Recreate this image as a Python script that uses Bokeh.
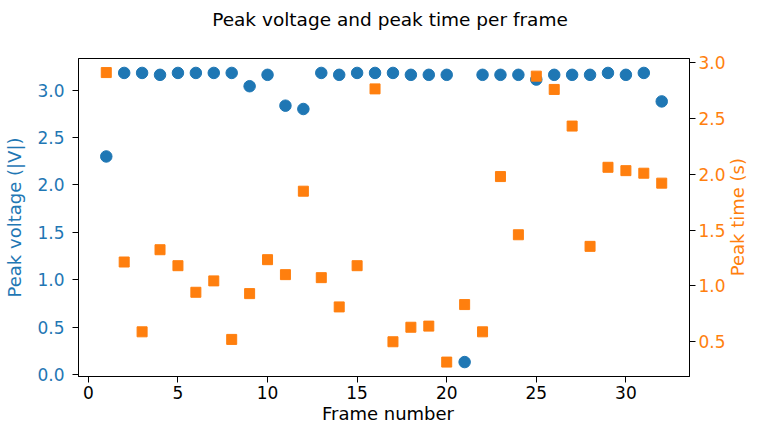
import math
from bokeh.plotting import figure
from bokeh.layouts import column, row
from bokeh.models import (Range1d, LinearAxis, FixedTicker, PrintfTickFormatter,
                          ColumnDataSource, Div)
from bokeh.embed import file_html
from bokeh.resources import INLINE

# ---- data ----
frames = list(range(1, 33))
peak_voltage = [2.30, 3.18, 3.18, 3.16, 3.18, 3.18, 3.18, 3.18, 3.04, 3.16,
                2.835, 2.80, 3.18, 3.16, 3.18, 3.18, 3.18, 3.16, 3.16, 3.16,
                0.134, 3.16, 3.16, 3.16, 3.11, 3.16, 3.16, 3.16, 3.18, 3.16,
                3.18, 2.88]
peak_time = [2.91, 1.214, 0.589, 1.324, 1.181, 0.943, 1.045, 0.521, 0.931, 1.235,
             1.101, 1.848, 1.074, 0.812, 1.181, 2.764, 0.50, 0.63, 0.64, 0.318,
             0.833, 0.589, 1.979, 1.458, 2.878, 2.759, 2.431, 1.354, 2.062, 2.032,
             2.009, 1.92]
x_ticks = [0, 5, 10, 15, 20, 25, 30]
v_ticks = [0.0, 0.5, 1.0, 1.5, 2.0, 2.5, 3.0]
t_ticks = [0.5, 1.0, 1.5, 2.0, 2.5, 3.0]
title_text = "Peak voltage and peak time per frame"
x_label = "Frame number"
left_label = "Peak voltage (|V|)"
right_label = "Peak time (s)"

BLUE = "#1f77b4"
ORANGE = "#ff7f0e"
FONT = "DejaVu Sans"

# ---- layout ----
TOTAL_W = 748
TITLE_H = 40
XLABEL_H = 15
LABEL_W = 20                 # strip that carries the right-hand axis label
W = TOTAL_W - LABEL_W
H = 421 - TITLE_H - XLABEL_H
BT, BB = 18, 30

src = ColumnDataSource(dict(frame=frames, v=peak_voltage, t=peak_time))

title = Div(
    text=('<div style="width:%dpx;box-sizing:border-box;padding-left:32px;'
          'padding-top:9px;margin:0;text-align:center;font-family:\'DejaVu Sans\';'
          'font-size:18.5px;line-height:21px;color:black;white-space:nowrap;">%s</div>')
         % (TOTAL_W, title_text),
    width=TOTAL_W, height=TITLE_H, margin=0)

p = figure(width=W, height=H, output_backend="svg", toolbar_location=None,
           x_range=Range1d(-0.55, 33.55), y_range=Range1d(-0.018, 3.332),
           min_border_left=78, min_border_right=36, min_border_top=BT,
           min_border_bottom=BB, margin=0)
p.extra_y_ranges = {"time": Range1d(0.189, 3.036)}

p.xgrid.visible = False
p.ygrid.visible = False
p.outline_line_color = "black"
p.outline_line_width = 1
p.background_fill_color = "white"
p.border_fill_color = "white"

right = LinearAxis(y_range_name="time")
p.add_layout(right, "right")

for ax in [p.xaxis[0], p.yaxis[0], right]:
    ax.axis_line_color = "black"
    ax.major_tick_line_color = "black"
    ax.major_tick_out = 6
    ax.major_tick_in = 0
    ax.minor_tick_line_color = None
    ax.major_label_text_font = FONT
    ax.major_label_text_font_size = "17px"
    ax.axis_label_text_font = FONT
    ax.axis_label_text_font_size = "18px"
    ax.axis_label_text_font_style = "normal"

xa = p.xaxis[0]
xa.ticker = FixedTicker(ticks=x_ticks)
xa.major_label_text_color = "black"
xa.major_label_standoff = 3

ya = p.yaxis[0]
ya.ticker = FixedTicker(ticks=v_ticks)
ya.formatter = PrintfTickFormatter(format="%.1f")
ya.axis_label = left_label
ya.major_label_text_color = BLUE
ya.axis_label_text_color = BLUE
ya.major_label_standoff = 8
ya.axis_label_standoff = 9

right.ticker = FixedTicker(ticks=t_ticks)
right.formatter = PrintfTickFormatter(format="%.1f")
right.major_label_text_color = ORANGE
right.major_label_standoff = 3

p.scatter("frame", "v", source=src, marker="circle", size=11.5,
          fill_color=BLUE, line_color=BLUE)
p.scatter("frame", "t", source=src, marker="square", size=10,
          fill_color=ORANGE, line_color=ORANGE, y_range_name="time")

# ---- right-hand axis label, reading bottom to top, centred on the frame ----
frame_mid = (BT + (H - BB)) / 2.0
rlabel = Div(
    text=('<div style="width:%dpx;height:%dpx;display:flex;align-items:center;'
          'justify-content:center;margin:0;padding:0;">'
          '<span style="writing-mode:vertical-rl;transform:rotate(180deg);'
          'font-family:\'DejaVu Sans\';font-size:18px;line-height:%dpx;'
          'color:%s;white-space:nowrap;">%s</span></div>')
         % (LABEL_W, int(round(2 * frame_mid)), LABEL_W, ORANGE, right_label),
    width=LABEL_W, height=H, margin=0)

# ---- x-axis label below the tick labels ----
xlabel = Div(
    text=('<div style="width:%dpx;height:%dpx;box-sizing:border-box;padding-left:28px;'
          'margin:0;text-align:center;font-family:\'DejaVu Sans\';font-size:18px;'
          'line-height:%dpx;color:black;white-space:nowrap;overflow:visible;">%s</div>')
         % (TOTAL_W, XLABEL_H, XLABEL_H, x_label),
    width=TOTAL_W, height=XLABEL_H, margin=0)

layout = column(title, row(p, rlabel, spacing=0), xlabel, spacing=0)
open("out.html", "w").write(file_html(layout, INLINE))
